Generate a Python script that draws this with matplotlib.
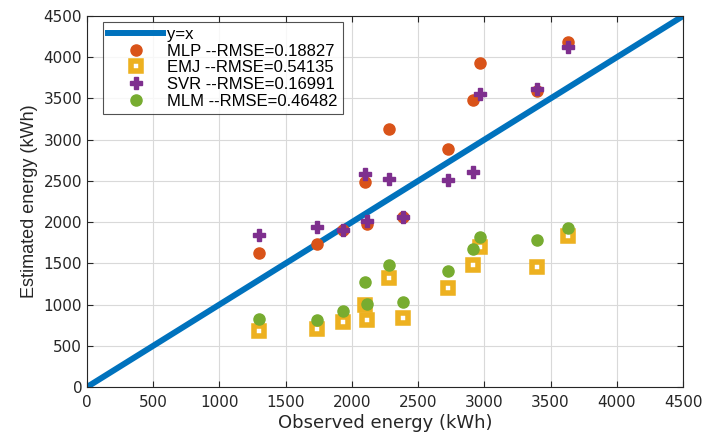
import matplotlib
matplotlib.use("Agg")
import matplotlib.pyplot as plt
from matplotlib.ticker import MultipleLocator

plt.rcParams['font.family'] = ['Liberation Sans', 'DejaVu Sans']

observed = [1300, 1735, 1935, 2100, 2113, 2283, 2388, 2728, 2917, 2967, 3395, 3634]
mlp = [1629, 1735, 1910, 2490, 1975, 3133, 2058, 2887, 3477, 3926, 3590, 4181]
emj = [679, 704, 792, 991, 813, 1318, 837, 1201, 1484, 1702, 1456, 1836]
svr = [1844, 1945, 1904, 2580, 2010, 2527, 2060, 2515, 2604, 3558, 3611, 4120]
mlm = [821, 813, 922, 1274, 1007, 1484, 1027, 1411, 1678, 1823, 1780, 1925]
line_x = [0, 4500]
labels = ['y=x', 'MLP --RMSE=0.18827', 'EMJ --RMSE=0.54135',
          'SVR --RMSE=0.16991', 'MLM --RMSE=0.46482']

c_line = '#0072BD'
c_mlp = '#D95319'
c_emj = '#EDB120'
c_svr = '#7E2F8E'
c_mlm = '#77AC30'

fig = plt.figure(figsize=(7.04, 4.34), dpi=100)
ax = fig.add_axes([0.1236, 0.1083, 0.8466, 0.8548])

ax.plot(line_x, line_x, color=c_line, lw=4.3, label=labels[0], zorder=2)
ax.plot(observed, mlp, ls='none', marker='o', ms=8, color=c_mlp, mec=c_mlp, label=labels[1], zorder=3)
ax.plot(observed, emj, ls='none', marker='s', ms=7, mfc='white', mec=c_emj, mew=4, label=labels[2], zorder=3)
ax.plot(observed, svr, ls='none', marker='P', ms=9, color=c_svr, mec=c_svr, label=labels[3], zorder=3)
ax.plot(observed, mlm, ls='none', marker='o', ms=8, color=c_mlm, mec=c_mlm, label=labels[4], zorder=3)

ax.set_xlim(0, 4500)
ax.set_ylim(0, 4500)
ax.xaxis.set_major_locator(MultipleLocator(500))
ax.yaxis.set_major_locator(MultipleLocator(500))
ax.grid(True, color='#d9d9d9', lw=0.8)
ax.set_axisbelow(True)
ax.tick_params(direction='in', length=4, colors='#262626', top=True, right=True,
               labelcolor='#262626')
ax.tick_params(axis='x', pad=6)
for lab in ax.get_xticklabels() + ax.get_yticklabels():
    lab.set_fontfamily('DejaVu Sans')
    lab.set_fontsize(11)
for s in ax.spines.values():
    s.set_color('#262626')
    s.set_linewidth(0.8)

ax.set_xlabel('Observed energy (kWh)', fontsize=13, family='DejaVu Sans', color='#262626', labelpad=3)
ax.set_ylabel('Estimated energy (kWh)', fontsize=13, color='#262626', labelpad=4)

leg = ax.legend(loc='upper left', bbox_to_anchor=(0.027, 0.984), borderaxespad=0, fontsize=12,
                frameon=True, fancybox=False, edgecolor='#262626', handlelength=3.3,
                borderpad=0.3, labelspacing=0.1, handletextpad=0.25)
leg.get_frame().set_linewidth(0.8)

fig.savefig('out.png', dpi=100)
